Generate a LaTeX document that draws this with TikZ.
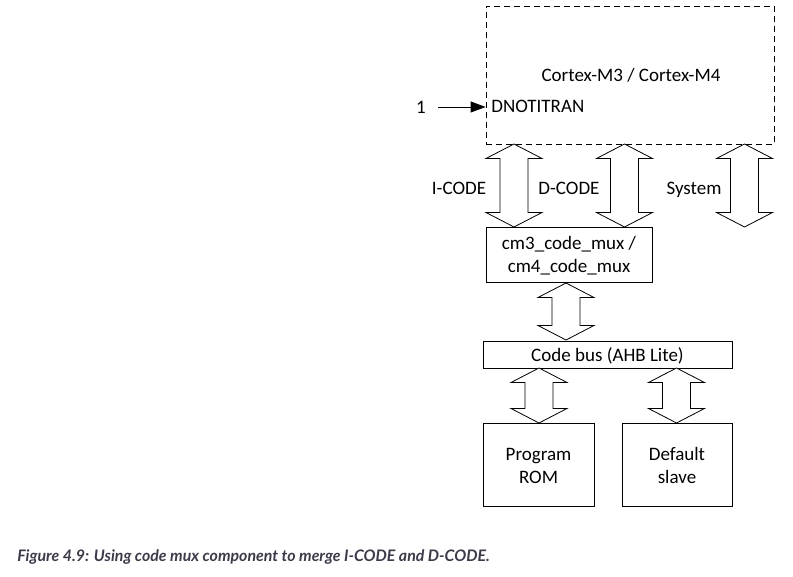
\documentclass[tikz,border=0pt]{standalone}
\usepackage{fontspec}
\setmainfont{Carlito}
\newfontfamily\capfont{Lato}
\usetikzlibrary{arrows.meta}
\definecolor{capgray}{HTML}{3B3B4A}
\newcommand\dblarr[3]{%
  \draw[barrow] (#1,#2) -- (#1+28,#2+14.5) -- (#1+14,#2+14.5) -- (#1+14,#3-14.5)
    -- (#1+28,#3-14.5) -- (#1,#3) -- (#1-28,#3-14.5) -- (#1-14,#3-14.5)
    -- (#1-14,#2+14.5) -- (#1-28,#2+14.5) -- cycle;}
\begin{document}
\begin{tikzpicture}[x=1pt,y=-1pt, line width=0.8pt,
  font=\fontsize{19}{23}\selectfont,
  box/.style={draw, inner sep=0pt},
  lbl/.style={inner sep=0pt, anchor=base},
  barrow/.style={draw, fill=white, line join=miter}]
\useasboundingbox (0,0) rectangle (793,577);

% boxes
\node[box, dash pattern=on 6pt off 4pt, minimum width=288pt, minimum height=138pt] (cortex) at (630,75) {};
\node[box, minimum width=166pt, minimum height=55pt] (mux) at (569,254.5) {};
\node[box, minimum width=249pt, minimum height=27pt] (bus) at (607.5,354.5) {};
\node[box, minimum width=111pt, minimum height=83pt] (rom) at (538.5,464.5) {};
\node[box, minimum width=110pt, minimum height=83pt] (dflt) at (677,464.5) {};

% texts
\node[lbl] (cortextxt) at (631,82) {Cortex-M3 / Cortex-M4};
\node[lbl, anchor=base west] (dnot) at (491,113) {DNOTITRAN};
\node[inner sep=0pt] (one) at (421,107) {1};
\draw[-{Triangle[length=15pt,width=11pt]}] ([xshift=12pt]one.east) -- (cortex.west |- one);

\node[lbl] (icode) at (459,195) {I-CODE};
\node[lbl] (dcode) at (569,195) {D-CODE};
\node[lbl] (system) at (694,195) {System};

\node[lbl] (mux1) at (569,250) {cm3\_code\_mux /};
\node[lbl] (mux2) at (569,273) {cm4\_code\_mux};
\node[lbl] (bustxt) at (607.5,362) {Code bus (AHB Lite)};
\node[lbl] (rom1) at (538.5,460) {Program};
\node[lbl] (rom2) at (538.5,483) {ROM};
\node[lbl] (dflt1) at (677,460) {Default};
\node[lbl] (dflt2) at (677,483) {slave};

% block arrows
\dblarr{514}{144}{227}
\dblarr{624.5}{144}{227}
\dblarr{744.5}{144}{227}
\dblarr{566}{283}{340}
\dblarr{539}{368}{423}
\dblarr{676.5}{368}{423}

% caption
\node[anchor=base west, inner sep=0pt, text=capgray,
  font=\capfont\bfseries\itshape\fontsize{15.9}{18}\selectfont] (cap) at (17,561)
  {Figure 4.9: Using code mux component to merge I-CODE and D-CODE.};
\end{tikzpicture}
\end{document}
